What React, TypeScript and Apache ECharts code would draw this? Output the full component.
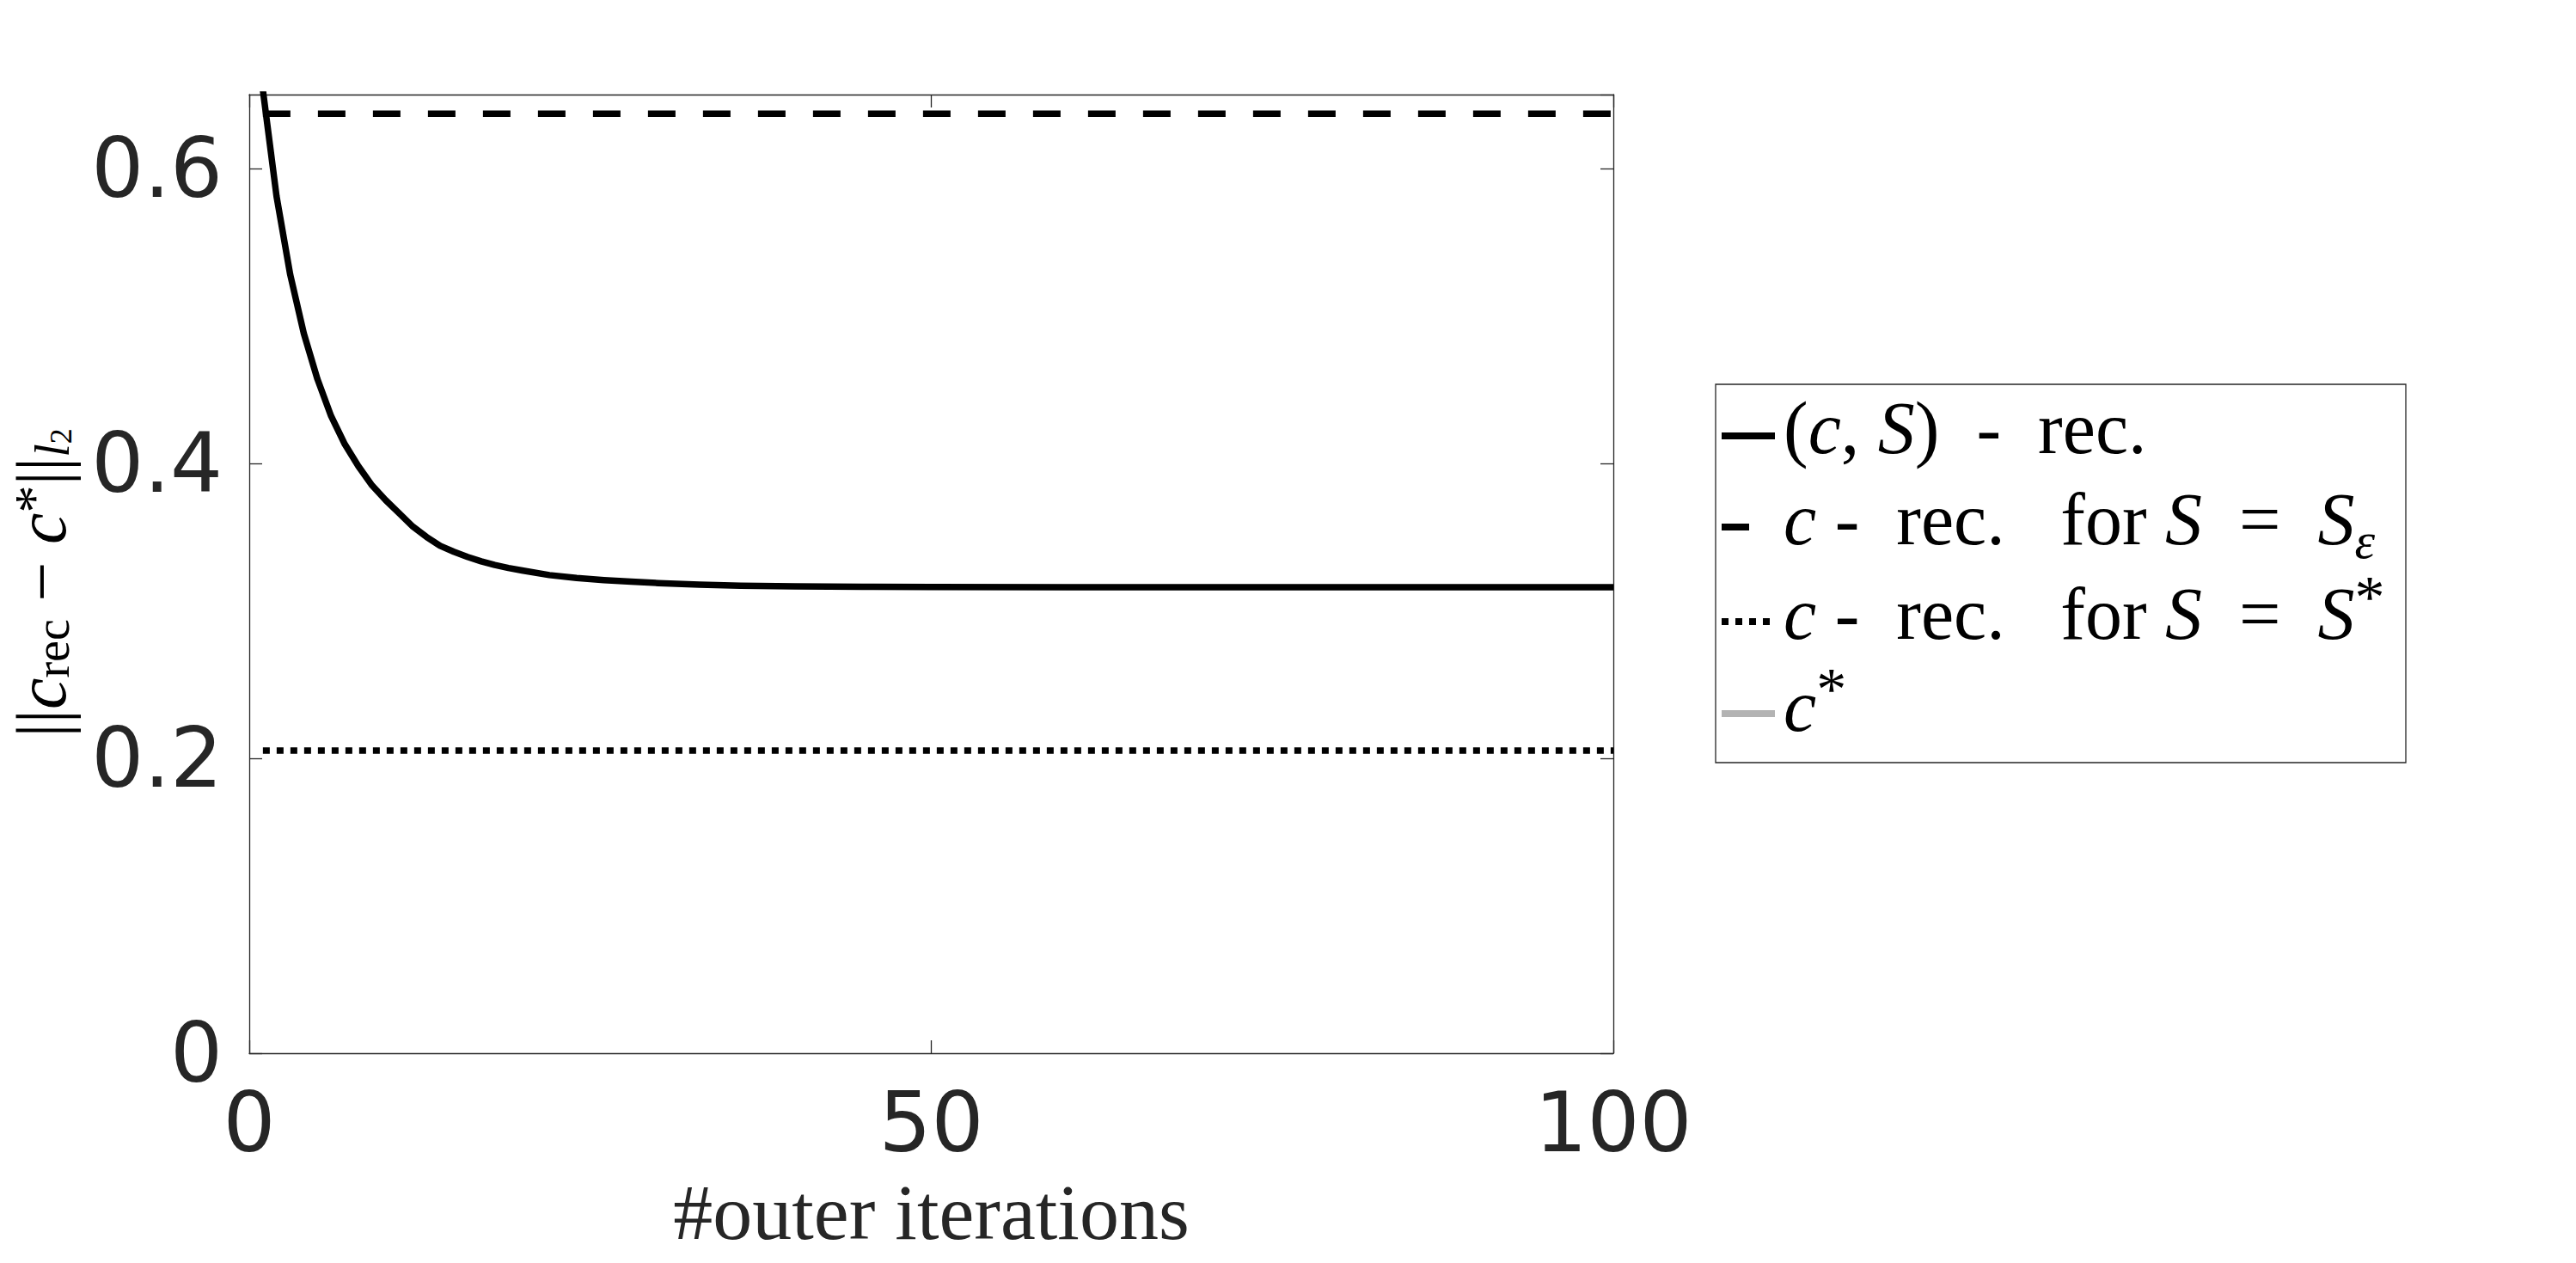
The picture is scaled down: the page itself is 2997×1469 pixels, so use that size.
import React, { useEffect, useRef } from "react";
import * as echarts from "echarts";

// ---- data ----
const solidIter = [1, 2, 3, 4, 5, 6, 7, 8, 9, 10, 11, 12, 13, 14, 15, 16, 17, 18, 19, 20, 22, 24, 26, 28, 30, 33, 36, 40, 45, 50, 60, 70, 80, 90, 100];
const solidVal = [0.653, 0.581, 0.528, 0.488, 0.457, 0.432, 0.413, 0.398, 0.385, 0.375, 0.366, 0.357, 0.350, 0.344, 0.3400, 0.3365, 0.3335, 0.3310, 0.3290, 0.3273, 0.3242, 0.3222, 0.3208, 0.3197, 0.3188, 0.3177, 0.3170, 0.3166, 0.3163, 0.3161, 0.3160, 0.3160, 0.3160, 0.3160, 0.3160];
const dashedIter = [1, 100];
const dashedVal = [0.637, 0.637];
const dottedIter = [1, 100];
const dottedVal = [0.2052, 0.2052];
const xTicks = [0, 50, 100];
const yTicks = [0, 0.2, 0.4, 0.6];

const AX = "#262626";
const SERIF = "'Liberation Serif', 'Times New Roman', serif";
const SANS = "'DejaVu Sans', sans-serif";

function pairs(xs: number[], ys: number[]) {
  return xs.map((x, i) => [x, ys[i]]);
}

export default function App() {
  const ref = useRef<HTMLDivElement>(null);
  useEffect(() => {
    if (!ref.current) return;
    const chart = echarts.init(ref.current, undefined, { renderer: "svg" });

    const axisCommon = {
      axisLine: { show: true, onZero: false, lineStyle: { color: AX, width: 1.3 } },
      axisTick: { show: true, inside: true, length: 15, lineStyle: { color: AX, width: 1.3 } },
      splitLine: { show: false },
    };

    const legendMain = { fontFamily: SERIF, fontSize: 86, lineHeight: 110, color: "#000", verticalAlign: "middle" };
    const legendRich = {
      n: { ...legendMain },
      i: { ...legendMain, fontStyle: "italic" },
      sub: { fontFamily: SERIF, fontSize: 60, fontStyle: "italic", lineHeight: 67, verticalAlign: "bottom", color: "#000" },
      sup: { fontFamily: SERIF, fontSize: 70, lineHeight: 92, verticalAlign: "top", color: "#000" },
    };

    const legendRows = [
      { y: 507, text: "{n|(}{i|c}{n|, }{i|S}{n|)  -  rec.}", dash: null as null | number[], color: "#000" },
      { y: 613, text: "{i|c}{n| -  rec.   for }{i|S}{n|  =  }{i|S}{sub|ε}", dash: [32, 32], color: "#000" },
      { y: 723, text: "{i|c}{n| -  rec.   for }{i|S}{n|  =  }{i|S}{sup|*}", dash: [8, 8], color: "#000" },
      { y: 830, text: "{i|c}{sup|*}", dash: null, color: "#b3b3b3" },
    ];

    const legendGraphics: any[] = [
      {
        type: "rect",
        shape: { x: 1996, y: 447, width: 803, height: 440 },
        style: { fill: "#fff", stroke: AX, lineWidth: 1.3 },
        z: 10,
      },
    ];
    legendRows.forEach((r) => {
      legendGraphics.push({
        type: "line",
        shape: { x1: 2003, y1: r.y, x2: 2065, y2: r.y },
        style: { stroke: r.color, lineWidth: 8, lineDash: r.dash || undefined, lineCap: "butt" },
        z: 11,
      });
      legendGraphics.push({
        type: "text",
        x: 2075,
        y: r.y - 9,
        style: { text: r.text, rich: legendRich, align: "left", verticalAlign: "middle" },
        z: 11,
      });
    });

    const yMain = { fontFamily: SERIF, fontSize: 82, lineHeight: 82, color: AX, verticalAlign: "middle" };
    const yLabel = {
      type: "text",
      x: 48,
      y: 678,
      rotation: Math.PI / 2,
      style: {
        text: "{b|||}{c|c}{s|rec}{m| − }{c|c}{p|*}{b|||}{sl|l}{sp|2}",
        align: "center",
        verticalAlign: "middle",
        rich: {
          b: { ...yMain },
          m: { ...yMain },
          c: { ...yMain, fontStyle: "italic" },
          s: { fontFamily: SERIF, fontSize: 56, lineHeight: 42, verticalAlign: "bottom", color: AX },
          sl: { fontFamily: SERIF, fontSize: 56, fontStyle: "italic", lineHeight: 36, verticalAlign: "bottom", color: AX },
          p: { fontFamily: SERIF, fontSize: 64, lineHeight: 70, verticalAlign: "top", color: AX },
          sp: { fontFamily: SERIF, fontSize: 36, lineHeight: 64, verticalAlign: "bottom", color: AX },
        },
      },
    };

    const fmtY = (v: number) => (yTicks.some((t) => Math.abs(t - v) < 1e-9) ? String(v) : "");

    chart.setOption({
      animation: false,
      backgroundColor: "#fff",
      grid: { left: 290, top: 110, right: 2997 - 1877, bottom: 1469 - 1225, containLabel: false },
      xAxis: [
        {
          type: "value",
          position: "bottom",
          min: xTicks[0],
          max: xTicks[xTicks.length - 1],
          interval: 50,
          ...axisCommon,
          axisLabel: { show: true, fontFamily: SANS, fontSize: 96, color: AX, margin: 33 },
          name: "#outer iterations",
          nameLocation: "middle",
          nameGap: 139,
          nameTextStyle: { fontFamily: SERIF, fontSize: 92, color: AX },
        },
        {
          type: "value",
          position: "top",
          min: xTicks[0],
          max: xTicks[xTicks.length - 1],
          interval: 50,
          ...axisCommon,
          axisLabel: { show: false },
        },
      ],
      yAxis: [
        {
          type: "value",
          position: "left",
          min: 0,
          max: 0.65,
          interval: 0.2,
          ...axisCommon,
          axisLabel: { show: true, fontFamily: SANS, fontSize: 96, color: AX, margin: 31, showMaxLabel: false, formatter: fmtY },
        },
        {
          type: "value",
          position: "right",
          min: 0,
          max: 0.65,
          interval: 0.2,
          ...axisCommon,
          axisLabel: { show: false },
        },
      ],
      series: [
        {
          name: "(c,S) - rec.",
          type: "line",
          data: pairs(solidIter, solidVal),
          symbol: "none",
          clip: true,
          lineStyle: { color: "#000", width: 7.5, cap: "butt", join: "round" },
          xAxisIndex: 0,
          yAxisIndex: 0,
        },
        {
          name: "c - rec. for S = S_eps",
          type: "line",
          data: pairs(dashedIter, dashedVal),
          symbol: "none",
          clip: true,
          lineStyle: { color: "#000", width: 7.5, type: [32, 32], cap: "butt" },
          xAxisIndex: 0,
          yAxisIndex: 0,
        },
        {
          name: "c - rec. for S = S*",
          type: "line",
          data: pairs(dottedIter, dottedVal),
          symbol: "none",
          clip: true,
          lineStyle: { color: "#000", width: 7.5, type: [8, 8], cap: "butt" },
          xAxisIndex: 0,
          yAxisIndex: 0,
        },
        {
          name: "c*",
          type: "line",
          data: [],
          symbol: "none",
          lineStyle: { color: "#b3b3b3", width: 7.5 },
          xAxisIndex: 0,
          yAxisIndex: 0,
        },
      ],
      graphic: [yLabel, ...legendGraphics],
    });

    return () => chart.dispose();
  }, []);

  return <div ref={ref} style={{ position: "fixed", left: 0, top: 0, width: 2997, height: 1469, background: "#fff" }} />;
}
